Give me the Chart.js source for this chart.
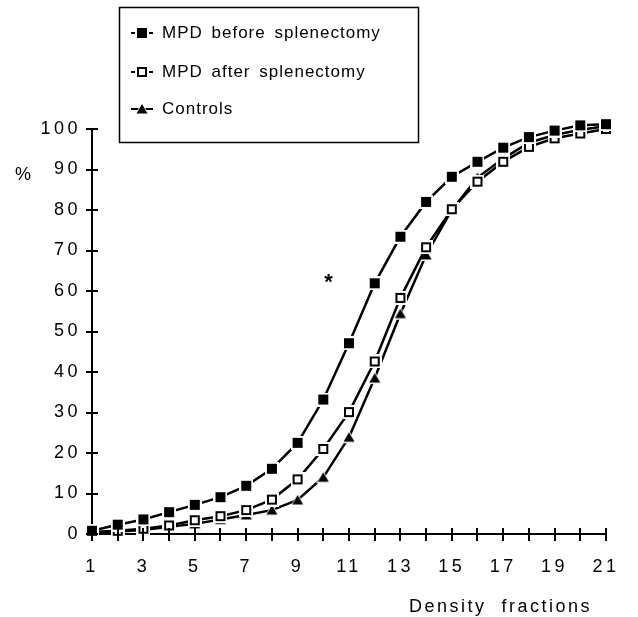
<!DOCTYPE html>
<html><head><meta charset="utf-8">
<script src="https://cdn.jsdelivr.net/npm/chart.js@4/dist/chart.umd.min.js"></script>
<style>html,body{margin:0;padding:0;background:#fff}canvas{display:block}</style>
</head><body>
<canvas id="c" width="638" height="617"></canvas>
<script>
// ---- data ----
const fractions = [1,2,3,4,5,6,7,8,9,10,11,12,13,14,15,16,17,18,19,20,21];
const mpdBefore = [0.8,2.3,3.6,5.4,7.2,9.1,11.9,16.1,22.5,33.2,47.1,61.9,73.4,82.0,88.2,91.9,95.4,98.0,99.6,100.9,101.2];
const mpdAfter  = [0.5,0.8,1.3,2.1,3.4,4.4,5.9,8.5,13.5,21.0,30.1,42.6,58.3,70.8,80.2,87.0,91.9,95.6,97.7,98.9,100.0];
const controls  = [0.3,0.6,1.0,1.8,2.5,3.6,4.7,5.9,8.4,14.0,23.9,38.5,54.4,68.9,80.0,88.0,92.7,96.6,98.5,99.8,100.7];
const seriesNames = ['MPD before splenectomy','MPD after splenectomy','Controls'];
const yTickValues = [0,10,20,30,40,50,60,70,80,90,100];
const xTickLabels = [1,3,5,7,9,11,13,15,17,19,21];
const xTitle = 'Density  fractions';
const yTitle = '%';
const asteriskAt = {x:10.2, y:63.5};
const yTitleAt = 88.6;

const FONT = 'Liberation Sans, Arial, Helvetica, sans-serif';
const toPts = arr => fractions.map((f,i)=>({x:f, y:arr[i]}));

// marker images (black mark with a thin white halo, as in the print)
function marker(kind){
  const c = document.createElement('canvas');
  c.width = 14; c.height = 14;
  const g = c.getContext('2d');
  if (kind === 'tri') {
    g.fillStyle = '#fff';
    g.beginPath(); g.moveTo(7,0); g.lineTo(14,13); g.lineTo(0,13); g.closePath(); g.fill();
    g.fillStyle = '#000';
    g.beginPath(); g.moveTo(7,2); g.lineTo(12.5,11.5); g.lineTo(1.5,11.5); g.closePath(); g.fill();
  } else {
    g.fillStyle = '#fff'; g.fillRect(0,0,14,14);
    g.fillStyle = '#000'; g.fillRect(2,2,10,10);
    if (kind === 'open') { g.fillStyle = '#fff'; g.fillRect(4,4,6,6); }
  }
  return c;
}
const markers = [marker('filled'), marker('open'), marker('tri')];

const extras = {
  id:'extras',
  beforeDraw(chart){ chart.ctx.letterSpacing = '3.5px'; },
  afterDraw(chart){
    const {ctx, chartArea:a, scales:{x, y}} = chart;
    ctx.save();
    // crossing tick marks
    ctx.strokeStyle = '#000'; ctx.lineWidth = 2;
    ctx.beginPath();
    yTickValues.forEach(v=>{ const py = Math.round(y.getPixelForValue(v)); ctx.moveTo(a.left-6, py); ctx.lineTo(a.left+6, py); });
    fractions.forEach(v=>{ const px = Math.round(x.getPixelForValue(v)); ctx.moveTo(px, a.bottom-6); ctx.lineTo(px, a.bottom+7); });
    ctx.stroke();
    // asterisk
    ctx.fillStyle = '#000';
    ctx.letterSpacing = '0px';
    ctx.font = 'bold 22px ' + FONT;
    ctx.textAlign = 'center'; ctx.textBaseline = 'alphabetic';
    ctx.fillText('*', x.getPixelForValue(asteriskAt.x), y.getPixelForValue(asteriskAt.y) + 12);
    // % label
    ctx.font = '18px ' + FONT; ctx.textBaseline = 'middle';
    ctx.fillText(yTitle, 23, y.getPixelForValue(yTitleAt));
    // x title
    ctx.letterSpacing = '2.5px';
    ctx.textAlign = 'right'; ctx.textBaseline = 'alphabetic';
    ctx.fillText(xTitle, a.right - 14, 612);
    // legend
    ctx.letterSpacing = '1px';
    ctx.wordSpacing = '3px';
    ctx.lineWidth = 1.5;
    ctx.strokeRect(119.5, 7.5, 299, 135);
    ctx.font = '17px ' + FONT; ctx.textAlign = 'left'; ctx.textBaseline = 'middle';
    const rows = [33, 72, 109];
    chart.data.datasets.forEach((ds,i)=>{
      const ry = rows[i];
      ctx.strokeStyle = '#000'; ctx.lineWidth = 2;
      ctx.beginPath(); ctx.moveTo(131, ry); ctx.lineTo(153, ry); ctx.stroke();
      Chart.helpers.drawPoint(ctx, {pointStyle: ds.pointStyle, radius: 6, rotation:0, borderWidth: 0}, 142, ry);
      ctx.fillStyle = '#000';
      ctx.fillText(ds.label, 162, ry);
    });
    ctx.restore();
  }
};

new Chart(document.getElementById('c'), {
  type:'line',
  data:{ datasets:[
    {label:seriesNames[0], data:toPts(mpdBefore), borderColor:'#000', borderWidth:2.5, tension:0, clip:false,
     pointStyle:markers[0], pointRadius:6},
    {label:seriesNames[1], data:toPts(mpdAfter), borderColor:'#000', borderWidth:2.5, tension:0, clip:false,
     pointStyle:markers[1], pointRadius:6},
    {label:seriesNames[2], data:toPts(controls), borderColor:'#000', borderWidth:2.5, tension:0, clip:false,
     pointStyle:markers[2], pointRadius:6}
  ]},
  options:{
    responsive:false, animation:false, devicePixelRatio:1,
    layout:{padding:{left:0, right:21, top:129, bottom:0}},
    plugins:{legend:{display:false}, tooltip:{enabled:false}},
    scales:{
      x:{type:'linear', min:1, max:21,
         afterFit(s){ s.height = 83; },
         grid:{display:false, drawTicks:false},
         border:{display:true, color:'#000', width:2},
         ticks:{stepSize:1, autoSkip:false, maxRotation:0, padding:22, color:'#000',
                font:{family:FONT, size:18},
                callback:v => xTickLabels.includes(v) ? String(v) : ''}},
      y:{min:0, max:100,
         afterFit(s){ s.width = 92; },
         grid:{display:false, drawTicks:false},
         border:{display:true, color:'#000', width:2},
         ticks:{stepSize:10, autoSkip:false, padding:11, color:'#000',
                font:{family:FONT, size:18}}}
    }
  },
  plugins:[extras]
});
</script>
</body></html>
